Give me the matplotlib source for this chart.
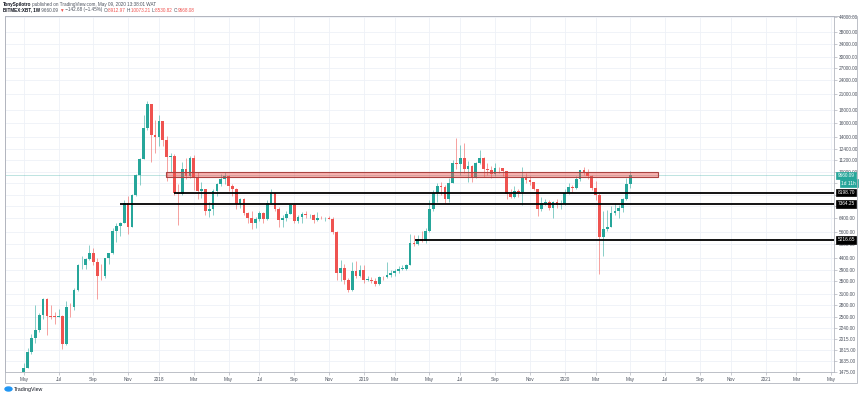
import numpy as np
import pandas as pd
import matplotlib
matplotlib.use('Agg')
import matplotlib.pyplot as plt
import matplotlib.dates as mdates
from matplotlib.patches import Rectangle, Ellipse
from matplotlib.transforms import blended_transform_factory
from matplotlib.ticker import NullLocator

plt.rcParams['font.family'] = ['Liberation Sans', 'DejaVu Sans']

# weekly XBTUSD candles, first bar = week of 2017-05-01
first_week = '2017-05-01'
opens = [
    # 2017
    1420, 1530, 1780, 2040, 2200, 2530, 2950, 2520, 2500, 2490, 2520, 1930, 2740, 2730, 3230, 4080, 4100, 4330,
    4580, 4220, 3700, 3680, 4380, 4580, 5650, 5950, 6100, 7400, 5900, 8000, 9700, 11300, 15200, 19100, 14200,
    # 2018
    13900, 16200, 13600, 11500, 11600, 8200, 8100, 10300, 9600, 11400, 9500, 8300, 8450, 6900, 7000, 8300, 8900,
    9300, 9650, 8700, 8500, 7350, 7700, 6750, 6450, 6150, 6350, 6750, 6350, 7400, 8200, 7000, 6300, 6450, 6700,
    7300, 6250, 6500, 6700, 6600, 6600, 6300, 6450, 6400, 6420, 6350, 5600, 3800, 4000, 3550, 3230, 3850, 3700,
    # 2019
    3900, 3550, 3560, 3530, 3430, 3650, 3640, 3720, 3800, 3880, 3950, 3960, 4100, 5050, 5000, 5250, 5150, 5700,
    7000, 8150, 8700, 8650, 7700, 9000, 10850, 10800, 11450, 10250, 10550, 9500, 10850, 11400, 10300, 10150,
    9750, 10400, 10350, 10050, 8050, 7850, 8300, 8250, 9500, 9250, 9050, 8450, 7000, 7400, 7500, 7100, 7500, 7300,
    # 2020
    7350, 8150, 8650, 8600, 9350, 10150, 9900, 9650, 8550, 8000, 5350, 5800, 5900, 6750, 6900, 7100, 7700, 8912.97,
]
highs = [
    1600, 1850, 2120, 2780, 2580, 2990, 2990, 2780, 2600, 2700, 2530, 2900, 2840, 3300, 4150, 4480, 4380, 4980,
    4800, 4400, 4120, 4400, 4600, 5850, 6150, 6200, 7600, 7900, 8100, 9750, 11400, 17200, 19700, 19200, 16500,
    17200, 16300, 14100, 12000, 11900, 8900, 11000, 11400, 11600, 11700, 10000, 9100, 8500, 7500, 8500, 9000,
    9800, 9950, 9700, 8900, 8550, 7800, 7750, 6800, 6850, 6500, 6850, 6800, 7600, 8500, 8250, 7150, 6600, 6900,
    7350, 7400, 6600, 6800, 6850, 6700, 6700, 6800, 6550, 6500, 6550, 6500, 5700, 4300, 4150, 3600, 4200, 4250, 4100,
    4100, 3700, 3650, 3600, 3700, 3700, 4200, 3900, 3950, 4050, 4100, 4150, 5500, 5450, 5450, 5650, 5850, 7600,
    8400, 8950, 9100, 8800, 9400, 11200, 13800, 12900, 13200, 11100, 10700, 11000, 12300, 11500, 10900, 10600,
    10900, 10500, 10350, 10050, 8500, 8700, 8500, 10500, 9850, 9600, 9100, 8500, 7850, 7700, 7650, 7550, 7700, 7600,
    8500, 9000, 8800, 9600, 10200, 10500, 10250, 9700, 9200, 8150, 6900, 6950, 7200, 7450, 7300, 7800, 9450, 10073.21,
]
lows = [
    1400, 1530, 1750, 1950, 2150, 2450, 2100, 2450, 2330, 2480, 1840, 1900, 2500, 2650, 3200, 3950, 3950, 4300,
    4100, 2970, 3550, 3600, 4140, 4560, 5100, 5400, 6100, 5500, 5900, 7900, 8800, 11300, 15000, 11000, 12000,
    12800, 12800, 9200, 10000, 8000, 6000, 8000, 9300, 9400, 8400, 7700, 7800, 6600, 6500, 6600, 7900, 8700,
    8900, 8300, 7900, 7000, 7100, 6600, 6100, 5800, 5850, 6250, 6100, 6300, 7350, 6900, 5900, 5900, 6250, 6650,
    6100, 6150, 6100, 6400, 6450, 6100, 6250, 6350, 6250, 6350, 5500, 3550, 3500, 3400, 3150, 3200, 3600, 3650,
    3450, 3500, 3450, 3350, 3380, 3550, 3600, 3650, 3700, 3800, 3900, 3900, 4100, 4900, 4950, 5100, 5050, 5600,
    6850, 7500, 8000, 7450, 7500, 8950, 10300, 9700, 9900, 9100, 9100, 9400, 10800, 9500, 9700, 9400, 9650, 9900,
    9600, 7700, 7750, 7800, 7850, 7300, 8950, 8800, 8400, 6550, 6850, 7250, 6950, 6450, 7100, 7000,
    7300, 8100, 8250, 8500, 9200, 9700, 9300, 8400, 7650, 3750, 4450, 5700, 5900, 6600, 6450, 6800, 7650, 8530.82,
]
closes = [
    1530, 1780, 2040, 2200, 2530, 2950, 2520, 2500, 2490, 2520, 1930, 2740, 2730, 3230, 4080, 4100, 4330, 4580,
    4220, 3700, 3680, 4380, 4580, 5650, 5950, 6100, 7400, 5900, 8000, 9700, 11300, 15200, 19100, 14200, 13900,
    16200, 13600, 11500, 11600, 8200, 8100, 10300, 9600, 11400, 9500, 8300, 8450, 6900, 7000, 8300, 8900, 9300,
    9650, 8700, 8500, 7350, 7700, 6750, 6450, 6150, 6350, 6750, 6350, 7400, 8200, 7000, 6300, 6450, 6700, 7300,
    6250, 6500, 6700, 6600, 6600, 6300, 6450, 6400, 6420, 6350, 5600, 3800, 4000, 3550, 3230, 3850, 3700, 3900,
    3550, 3560, 3530, 3430, 3650, 3640, 3720, 3800, 3880, 3950, 3960, 4100, 5050, 5000, 5250, 5150, 5700, 7000,
    8150, 8700, 8650, 7700, 9000, 10850, 10800, 11450, 10250, 10550, 9500, 10850, 11400, 10300, 10150, 9750,
    10400, 10350, 10050, 8050, 7850, 8300, 8250, 9500, 9250, 9050, 8450, 7000, 7400, 7500, 7100, 7500, 7300, 7350,
    8150, 8650, 8600, 9350, 10150, 9900, 9650, 8550, 8000, 5350, 5800, 5900, 6750, 6900, 7100, 7700, 8900, 9660.09,
]

# drawn levels
levels = [8198.70, 7364.25, 5216.65]
level_starts = ['2018-01-28', '2017-10-22', '2019-04-10']
zone_low, zone_high = 9550, 9950
zone_start, zone_end = '2018-01-14', '2020-06-24'
last_price = 9660.09
countdown = '1d 11h'

price_ticks = [1475, 1635, 1815, 2015, 2240, 2500, 2800, 3100, 3500, 3900, 4400, 5000, 5600, 6400, 7200,
               8000, 9000, 10000, 11200, 12400, 14000, 16000, 18000, 21000, 24000, 27000, 30000, 34000,
               38000, 44000]
hidden_ticks = [7200, 8000, 9000]   # covered by the price boxes in the original
time_ticks = ['2017-05-01', '2017-07-03', '2017-09-04', '2017-11-06', '2018-01-01', '2018-03-05',
              '2018-05-07', '2018-07-02', '2018-09-03', '2018-11-05', '2019-01-07', '2019-03-04',
              '2019-05-06', '2019-07-01', '2019-09-02', '2019-11-04', '2020-01-06', '2020-03-02',
              '2020-05-04', '2020-07-06', '2020-09-07', '2020-11-02', '2021-01-04', '2021-03-01',
              '2021-05-03']
time_labels = ['May', 'Jul', 'Sep', 'Nov', '2018', 'Mar', 'May', 'Jul', 'Sep', 'Nov', '2019', 'Mar',
               'May', 'Jul', 'Sep', 'Nov', '2020', 'Mar', 'May', 'Jul', 'Sep', 'Nov', '2021', 'Mar', 'May']

GREEN = '#26a69a'
RED = '#ef5350'
GRID = '#eef1f7'
FRAME = '#b2b5be'
TXT = '#4c525e'

W, H = 860, 395
fig = plt.figure(figsize=(W / 100, H / 100), dpi=100)
ax = fig.add_axes([5 / W, 23 / H, 829 / W, 356 / H])

o = np.array(opens, dtype=float)
h = np.array(highs, dtype=float)
l = np.array(lows, dtype=float)
c = np.array(closes, dtype=float)
dates = pd.date_range(first_week, periods=len(c), freq='7D')
x = mdates.date2num(dates)

cols = np.where(c >= o, GREEN, RED)
ax.vlines(x, l, h, colors=cols, linewidth=0.7, alpha=0.55, zorder=3)
bottom = np.minimum(o, c)
height = np.maximum(np.abs(c - o), bottom * 0.006)
ax.bar(x, height, bottom=bottom, width=4.9, color=cols, linewidth=0, zorder=4)

ax.set_yscale('log')
ax.set_ylim(1470, 44500)
xmin = mdates.date2num(pd.Timestamp('2017-03-28'))
xmax = mdates.date2num(pd.Timestamp('2021-05-08'))
ax.set_xlim(xmin, xmax)

# last price line
ax.axhline(last_price, color=GREEN, lw=0.6, alpha=0.35, zorder=2)

# resistance zone
z0 = mdates.date2num(pd.Timestamp(zone_start))
z1 = mdates.date2num(pd.Timestamp(zone_end))
ax.add_patch(Rectangle((z0, zone_low), z1 - z0, zone_high - zone_low,
                       facecolor=(0.94, 0.33, 0.31, 0.45), edgecolor='#a94442', lw=0.8, zorder=5))

# support lines
for lev, st in zip(levels, level_starts):
    ax.hlines(lev, mdates.date2num(pd.Timestamp(st)), xmax, colors='black', lw=1.3, zorder=6)

# axes look
ax.yaxis.tick_right()
ax.yaxis.set_minor_locator(NullLocator())
ax.set_yticks(price_ticks)
ax.set_yticklabels(['' if v in hidden_ticks else f'{v:.2f}' for v in price_ticks])
ax.set_xticks([mdates.date2num(pd.Timestamp(t)) for t in time_ticks])
ax.set_xticklabels(time_labels)
ax.tick_params(axis='both', length=2, width=0.5, color=FRAME, labelsize=3.4, labelcolor=TXT, pad=1.5)
ax.grid(True, color=GRID, lw=0.6, zorder=0)
ax.set_axisbelow(True)
for sp in ax.spines.values():
    sp.set_color(FRAME)
    sp.set_linewidth(0.6)

# price labels on the axis
trans = blended_transform_factory(ax.transAxes, ax.transData)
for lev in levels:
    ax.text(1.004, lev, f'{lev:.2f}', transform=trans, fontsize=3.4, color='white', va='center', ha='left',
            bbox=dict(boxstyle='square,pad=0.3', fc='black', ec='black', lw=0.5), zorder=10, clip_on=False)
ax.text(1.004, last_price, f'{last_price:.2f}', transform=trans, fontsize=3.4, color='white', va='center',
        ha='left', bbox=dict(boxstyle='square,pad=0.3', fc=GREEN, ec=GREEN, lw=0.5), zorder=10, clip_on=False)
ax.annotate(countdown, xy=(1.004, last_price), xycoords=trans, xytext=(3, -5.5), textcoords='offset points',
            fontsize=3.4, color='white', va='center', ha='left',
            bbox=dict(boxstyle='square,pad=0.3', fc=GREEN, ec=GREEN, lw=0.5), zorder=10, annotation_clip=False)

# outer frame around chart and scales
fig.add_artist(Rectangle((5 / W, (H - 383) / H), 852 / W, 367 / H, transform=fig.transFigure,
                         fill=False, ec=FRAME, lw=0.6))

# header lines
renderer = fig.canvas.get_renderer()


def write_line(x0, y0, parts, size=3.3):
    xpos = x0
    for txt, color, weight in parts:
        t = fig.text(xpos, y0, txt, color=color, fontweight=weight, fontsize=size, va='center', ha='left')
        xpos += t.get_window_extent(renderer).width / W


write_line(3 / W, 1 - 4.5 / H, [
    ('TonySpilotro', '#131722', 'bold'),
    (' published on TradingView.com, May 09, 2020 13:38:01 WAT', TXT, 'normal'),
])
write_line(3 / W, 1 - 10 / H, [
    ('BITMEX:XBT, 1W', '#131722', 'bold'),
    (' 9660.09 ', TXT, 'normal'),
    ('▼', RED, 'normal'),
    (' \u2212142.68 (\u22121.45%) ', TXT, 'normal'),
    ('O:', TXT, 'normal'), ('8912.97 ', RED, 'normal'),
    ('H:', TXT, 'normal'), ('10073.21 ', RED, 'normal'),
    ('L:', TXT, 'normal'), ('8530.82 ', RED, 'normal'),
    ('C:', TXT, 'normal'), ('9668.08', RED, 'normal'),
])

# TradingView footer
fig.add_artist(Ellipse((8.5 / W, 1 - 389 / H), 7 / W, 4 / H, transform=fig.transFigure, color='#2196f3'))
fig.text(14 / W, 1 - 389 / H, 'TradingView', fontsize=3.8, color='#131722', va='center', ha='left')

fig.savefig('out.png', dpi=100)
